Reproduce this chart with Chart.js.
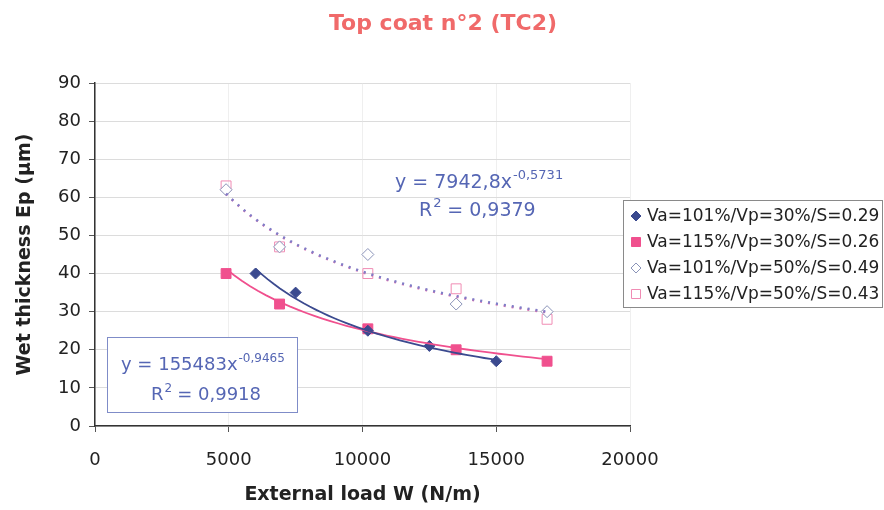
<!DOCTYPE html>
<html>
<head>
<meta charset="utf-8">
<script src="https://cdn.jsdelivr.net/npm/chart.js@4.4.0/dist/chart.umd.min.js"></script>
<style>
  html, body { margin: 0; padding: 0; background: #fff; }
  #wrap { width: 884px; height: 510px; position: relative; }
</style>
</head>
<body>
<div id="wrap"><canvas id="chart" width="884" height="510"></canvas></div>
<script>
// series
const seriesNames = ['Va=101%/Vp=30%/S=0.29', 'Va=115%/Vp=30%/S=0.26', 'Va=101%/Vp=50%/S=0.49', 'Va=115%/Vp=50%/S=0.43'];
const loadA = [6000, 7500, 10200, 12500, 15000];
const thickA = [40, 35, 25, 21, 17];
const loadB = [4900, 6900, 10200, 13500, 16900];
const thickB = [40, 32, 25.5, 20, 17];
const loadC = [4900, 6900, 10200, 13500, 16900];
const thickC = [62, 47, 45, 32, 30];
const loadD = [4900, 6900, 10200, 13500, 16900];
const thickD = [63, 47, 40, 36, 28];

// power trendlines y = a * x^b  [a, b]
const trendA = [155483, -0.9465];
const trendB = [14500, -0.69];
const trendC = [7942.8, -0.5731];
const trendD = [8200, -0.577];

const xTicks = [0, 5000, 10000, 15000, 20000];
const yTicks = [0, 10, 20, 30, 40, 50, 60, 70, 80, 90];

const FONT = '"DejaVu Sans", sans-serif';

const pts = (xs, ys) => xs.map((x, i) => ({x, y: ys[i]}));

// trendline sampled between the first and last load of its series
const curve = (xs, t) => {
    const x0 = xs[0], x1 = xs[xs.length - 1];
    const out = [];
    for (let i = 0; i <= 40; i++) {
        const x = x0 + (x1 - x0) * i / 40;
        out.push({x, y: t[0] * Math.pow(x, t[1])});
    }
    return out;
};

const colors = {
    blue: '#3b4a8f',
    pink: '#f0508e',
    openBlue: '#8a93b8',
    openPink: '#f08cb4',
    eq: '#5566b4'
};

const trendSet = (data, color, dash) => ({
    type: 'line', data, borderColor: color, borderWidth: dash ? 2.5 : 1.8,
    borderDash: dash || [], pointRadius: 0, tension: 0, fill: false
});

// superscript equation writer
const drawEq = (ctx, x, y, base, sup, size) => {
    ctx.font = size + 'px ' + FONT;
    ctx.fillText(base, x, y);
    const w = ctx.measureText(base).width;
    ctx.font = Math.round(size * 0.66) + 'px ' + FONT;
    ctx.fillText(sup, x + w + 1, y - size * 0.45);
};

const extras = {
    id: 'extras',
    afterDraw(chart) {
        const ctx = chart.ctx;
        ctx.save();
        // title
        ctx.fillStyle = '#f06a6a';
        ctx.font = 'bold 22px ' + FONT;
        ctx.textAlign = 'center';
        ctx.textBaseline = 'alphabetic';
        ctx.fillText('Top coat n°2 (TC2)', 443, 30);

        ctx.textAlign = 'left';
        // equations
        ctx.fillStyle = colors.eq;
        drawEq(ctx, 395, 188, 'y = 7942,8x', '-0,5731', 19);
        drawEq(ctx, 419, 216, 'R', '2', 19);
        ctx.font = '19px ' + FONT;
        ctx.fillText(' = 0,9379', 419 + ctx.measureText('R').width + 9, 216);

        ctx.fillStyle = '#ffffff';
        ctx.fillRect(107, 337, 190, 75);
        ctx.strokeStyle = '#7f8cc8';
        ctx.lineWidth = 1;
        ctx.strokeRect(107.5, 337.5, 190, 75);
        ctx.fillStyle = colors.eq;
        drawEq(ctx, 121, 370, 'y = 155483x', '-0,9465', 18);
        drawEq(ctx, 151, 400, 'R', '2', 18);
        ctx.font = '18px ' + FONT;
        ctx.fillText(' = 0,9918', 151 + ctx.measureText('R').width + 8, 400);

        // legend
        ctx.fillStyle = '#ffffff';
        ctx.fillRect(623, 200, 259, 107);
        ctx.strokeStyle = '#8a8a8a';
        ctx.strokeRect(623.5, 200.5, 259, 107);
        const marks = [
            {style: 'diamond', fill: colors.blue, stroke: colors.blue},
            {style: 'square', fill: colors.pink, stroke: colors.pink},
            {style: 'diamond', fill: '#fff', stroke: colors.openBlue},
            {style: 'square', fill: '#fff', stroke: colors.openPink}
        ];
        ctx.font = '17px ' + FONT;
        ctx.textBaseline = 'middle';
        seriesNames.forEach((name, i) => {
            const y = 216 + i * 26;
            const m = marks[i];
            ctx.fillStyle = m.fill;
            ctx.strokeStyle = m.stroke;
            ctx.beginPath();
            if (m.style === 'diamond') {
                ctx.moveTo(636, y - 5); ctx.lineTo(641, y); ctx.lineTo(636, y + 5); ctx.lineTo(631, y); ctx.closePath();
            } else {
                ctx.rect(631.5, y - 4.5, 9, 9);
            }
            ctx.fill();
            ctx.stroke();
            ctx.fillStyle = '#222';
            ctx.fillText(name, 647, y + 1);
        });
        ctx.restore();
    }
};

const ctx = document.getElementById('chart').getContext('2d');
new Chart(ctx, {
    type: 'scatter',
    data: {
        datasets: [
            trendSet(curve(loadC, trendC), '#7d7fc8', [2, 6]),
            trendSet(curve(loadD, trendD), '#e070b0', [2, 6]),
            trendSet(curve(loadA, trendA), colors.blue),
            trendSet(curve(loadB, trendB), colors.pink),
            {label: seriesNames[0], data: pts(loadA, thickA), pointStyle: 'rectRot', pointRadius: 5.5,
             backgroundColor: colors.blue, borderColor: colors.blue},
            {label: seriesNames[1], data: pts(loadB, thickB), pointStyle: 'rect', pointRadius: 7,
             backgroundColor: colors.pink, borderColor: colors.pink},
            {label: seriesNames[2], data: pts(loadC, thickC), pointStyle: 'rectRot', pointRadius: 6,
             backgroundColor: '#fff', borderColor: colors.openBlue, borderWidth: 1},
            {label: seriesNames[3], data: pts(loadD, thickD), pointStyle: 'rect', pointRadius: 7,
             backgroundColor: 'rgba(255,255,255,0)', borderColor: colors.openPink, borderWidth: 1}
        ]
    },
    options: {
        responsive: false,
        animation: false,
        events: [],
        layout: { padding: { top: 83, right: 254, left: 0, bottom: 0 } },
        plugins: { legend: { display: false }, tooltip: { enabled: false } },
        scales: {
            x: {
                type: 'linear', min: 0, max: 20000,
                afterBuildTicks: (s) => { s.ticks = xTicks.map(v => ({value: v})); },
                afterFit: (s) => { s.height = 84; },
                grid: { color: '#efefef', tickColor: '#555', tickLength: 6 },
                border: { color: '#333', width: 1.5 },
                ticks: { color: '#222', font: { size: 18, family: FONT }, padding: 18, maxRotation: 0,
                         callback: (v) => String(v) },
                title: { display: true, text: 'External load W (N/m)', color: '#222',
                         font: { size: 19, weight: 'bold', family: FONT }, padding: { top: 0, bottom: 4 } }
            },
            y: {
                type: 'linear', min: 0, max: 90,
                afterBuildTicks: (s) => { s.ticks = yTicks.map(v => ({value: v})); },
                afterFit: (s) => { s.width = 95; },
                grid: { color: '#dcdcdc', tickColor: '#555', tickLength: 6 },
                border: { color: '#333', width: 1.5 },
                ticks: { color: '#222', font: { size: 18, family: FONT }, padding: 8 },
                title: { display: true, text: 'Wet thickness Ep (µm)', color: '#222',
                         font: { size: 19, weight: 'bold', family: FONT }, padding: { top: 14, bottom: 0 } }
            }
        }
    },
    plugins: [extras]
});
</script>
</body>
</html>
